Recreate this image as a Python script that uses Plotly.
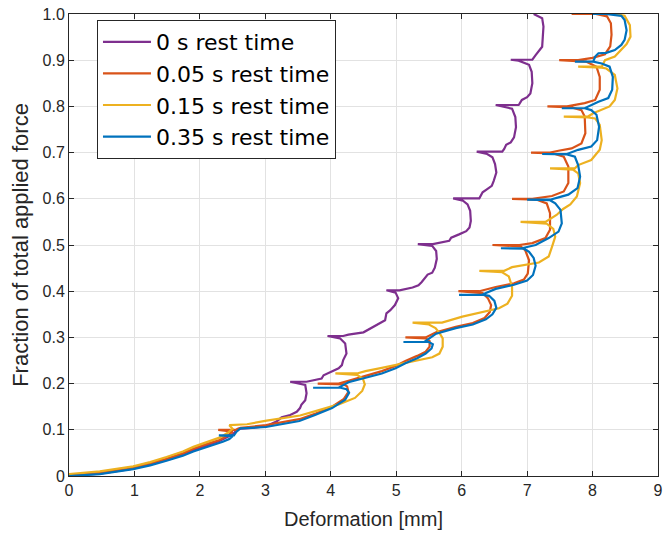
import plotly.graph_objects as go

# Series: (deformation [mm], fraction of force)
rest_0s = [
    (0, 0), (0.47, 0.005), (0.98, 0.016), (1.49, 0.035), (1.9, 0.056), (2.3, 0.076),
    (2.5, 0.09), (2.58, 0.102), (2.8, 0.104), (3.02, 0.108), (3.17, 0.118), (3.25, 0.127),
    (3.38, 0.132), (3.48, 0.139), (3.53, 0.147), (3.55, 0.154), (3.61, 0.164), (3.63, 0.179),
    (3.61, 0.197), (3.38, 0.204), (3.63, 0.204),
    (3.74, 0.208), (3.86, 0.211), (3.89, 0.218), (4.02, 0.226), (4.12, 0.233), (4.17, 0.24),
    (4.19, 0.251), (4.24, 0.265), (4.22, 0.287), (4.14, 0.298), (3.95, 0.303), (4.19, 0.303),
    (4.27, 0.306), (4.5, 0.311), (4.6, 0.319), (4.75, 0.33), (4.83, 0.337), (4.85, 0.352),
    (4.91, 0.359), (4.98, 0.37), (5.03, 0.385), (4.99, 0.397), (4.85, 0.402), (5.05, 0.402),
    (5.25, 0.408), (5.34, 0.413), (5.39, 0.42), (5.48, 0.436), (5.55, 0.44), (5.59, 0.451),
    (5.62, 0.47), (5.61, 0.487), (5.55, 0.498), (5.33, 0.502), (5.56, 0.502),
    (5.81, 0.509), (5.84, 0.516), (5.96, 0.523), (6.07, 0.53), (6.12, 0.538), (6.14, 0.552),
    (6.13, 0.574), (6.09, 0.588), (6.02, 0.596), (5.87, 0.601), (6.27, 0.601),
    (6.29, 0.607), (6.32, 0.614), (6.39, 0.621), (6.46, 0.628), (6.49, 0.639), (6.53, 0.657),
    (6.51, 0.675), (6.47, 0.69), (6.39, 0.697), (6.23, 0.702), (6.62, 0.702),
    (6.65, 0.708), (6.68, 0.717), (6.75, 0.722), (6.80, 0.733), (6.83, 0.755), (6.82, 0.777),
    (6.77, 0.795), (6.52, 0.803), (6.87, 0.803),
    (6.88, 0.805), (6.92, 0.814), (7.0, 0.82), (7.05, 0.828), (7.08, 0.85), (7.07, 0.875),
    (7.03, 0.89), (6.97, 0.893), (6.87, 0.899), (6.75, 0.901), (7.08, 0.901),
    (7.13, 0.911), (7.18, 0.919), (7.23, 0.929), (7.24, 0.951), (7.25, 0.973), (7.23, 0.991),
    (7.10, 1.0),
]

rest_005s = [
    (0, 0.002), (0.47, 0.007), (0.98, 0.018), (1.24, 0.027), (1.49, 0.037), (1.74, 0.049),
    (1.9, 0.059), (2.1, 0.069), (2.3, 0.078), (2.42, 0.087), (2.5, 0.096), (2.28, 0.1), (2.55, 0.1),
    (2.62, 0.104), (3.01, 0.11), (3.52, 0.123), (3.78, 0.136), (4.02, 0.15), (4.2, 0.167),
    (4.27, 0.182), (4.25, 0.194), (4.2, 0.198), (3.80, 0.2), (4.12, 0.2),
    (4.27, 0.206), (4.53, 0.216), (4.78, 0.227), (4.99, 0.238), (5.14, 0.249), (5.32, 0.26),
    (5.45, 0.269), (5.51, 0.28), (5.51, 0.292), (5.45, 0.298), (5.14, 0.3), (5.45, 0.3),
    (5.61, 0.311), (5.91, 0.323), (6.17, 0.331), (6.35, 0.342), (6.43, 0.355), (6.45, 0.37),
    (6.40, 0.385), (6.32, 0.396), (5.95, 0.4), (6.27, 0.4),
    (6.52, 0.409), (6.8, 0.417), (6.95, 0.425), (7.01, 0.438), (7.03, 0.467), (6.97, 0.489),
    (6.9, 0.497), (6.47, 0.5), (6.88, 0.5),
    (7.08, 0.504), (7.28, 0.515), (7.35, 0.533), (7.35, 0.569), (7.30, 0.59), (7.15, 0.598),
    (6.77, 0.6), (7.08, 0.6),
    (7.38, 0.606), (7.56, 0.616), (7.63, 0.634), (7.63, 0.67), (7.56, 0.691), (7.40, 0.698),
    (7.06, 0.7), (7.35, 0.7),
    (7.48, 0.704), (7.68, 0.709), (7.83, 0.72), (7.89, 0.742), (7.88, 0.778), (7.83, 0.792),
    (7.68, 0.798), (7.31, 0.8), (7.61, 0.8),
    (7.88, 0.807), (8.04, 0.814), (8.11, 0.836), (8.11, 0.864), (8.06, 0.886), (7.9, 0.897),
    (7.49, 0.9), (7.78, 0.9),
    (8.0, 0.905), (8.19, 0.913), (8.27, 0.93), (8.29, 0.955), (8.28, 0.98), (8.22, 0.995),
    (8.05, 1.0), (7.68, 1.0),
]

rest_015s = [
    (0, 0.004), (0.47, 0.01), (0.98, 0.021), (1.24, 0.03), (1.49, 0.041), (1.74, 0.053),
    (1.9, 0.063), (2.1, 0.073), (2.3, 0.083), (2.42, 0.093), (2.5, 0.102), (2.45, 0.11), (2.72, 0.112),
    (3.02, 0.12), (3.53, 0.131), (3.78, 0.141), (4.12, 0.155), (4.37, 0.169), (4.48, 0.184),
    (4.52, 0.198), (4.49, 0.211), (4.40, 0.219), (4.07, 0.222), (4.40, 0.222),
    (4.53, 0.227), (4.78, 0.234), (5.04, 0.242), (5.30, 0.249), (5.55, 0.257), (5.66, 0.265),
    (5.71, 0.28), (5.71, 0.298), (5.66, 0.31), (5.6, 0.32), (5.5, 0.328), (5.25, 0.332), (5.70, 0.332),
    (6.01, 0.345), (6.27, 0.353), (6.57, 0.363), (6.7, 0.373), (6.77, 0.39), (6.77, 0.41),
    (6.72, 0.432), (6.62, 0.441), (6.27, 0.444), (6.65, 0.444),
    (6.77, 0.452), (7.18, 0.462), (7.33, 0.475), (7.38, 0.496), (7.43, 0.518), (7.40, 0.535),
    (7.3, 0.546), (6.90, 0.55), (7.28, 0.55),
    (7.45, 0.565), (7.55, 0.578), (7.66, 0.588), (7.76, 0.605), (7.81, 0.634), (7.78, 0.655),
    (7.70, 0.663), (7.35, 0.666), (7.73, 0.666),
    (7.78, 0.673), (7.98, 0.684), (8.11, 0.706), (8.14, 0.727), (8.11, 0.76), (8.04, 0.774),
    (7.93, 0.776), (7.56, 0.778), (7.93, 0.778),
    (8.01, 0.785), (8.14, 0.792), (8.26, 0.8), (8.34, 0.814), (8.38, 0.839), (8.34, 0.868),
    (8.21, 0.882), (8.14, 0.884), (7.78, 0.886), (8.14, 0.886),
    (8.19, 0.9), (8.34, 0.908), (8.44, 0.922), (8.52, 0.935), (8.58, 0.951), (8.57, 0.976),
    (8.49, 0.996), (8.35, 1.0),
]

rest_035s = [
    (0, 0), (0.47, 0.004), (0.98, 0.015), (1.24, 0.023), (1.49, 0.033), (1.74, 0.044),
    (1.9, 0.053), (2.1, 0.062), (2.25, 0.068), (2.35, 0.074), (2.45, 0.08), (2.5, 0.086),
    (2.29, 0.088), (2.52, 0.088),
    (2.56, 0.096), (2.62, 0.103), (3.01, 0.106), (3.52, 0.119), (3.76, 0.132), (4.02, 0.147),
    (4.22, 0.165), (4.28, 0.18), (4.24, 0.188), (4.15, 0.191), (3.73, 0.191), (4.12, 0.191),
    (4.27, 0.203), (4.53, 0.212), (4.78, 0.222), (4.99, 0.233), (5.14, 0.244), (5.32, 0.255),
    (5.45, 0.265), (5.54, 0.276), (5.56, 0.285), (5.50, 0.29), (5.11, 0.29), (5.43, 0.29),
    (5.61, 0.308), (5.91, 0.32), (6.17, 0.328), (6.37, 0.339), (6.47, 0.35), (6.53, 0.364),
    (6.5, 0.379), (6.42, 0.39), (6.33, 0.392), (5.96, 0.392), (6.30, 0.392),
    (6.52, 0.405), (6.8, 0.414), (7.0, 0.423), (7.09, 0.435), (7.13, 0.455), (7.10, 0.472),
    (7.03, 0.485), (6.95, 0.492), (6.60, 0.493), (6.92, 0.493),
    (7.13, 0.5), (7.33, 0.515), (7.48, 0.529), (7.53, 0.547), (7.51, 0.576), (7.43, 0.59),
    (7.35, 0.597), (7.0, 0.598), (7.35, 0.598),
    (7.48, 0.603), (7.63, 0.609), (7.77, 0.623), (7.81, 0.648), (7.78, 0.673), (7.73, 0.691),
    (7.61, 0.696), (7.23, 0.697), (7.61, 0.697),
    (7.78, 0.706), (7.98, 0.713), (8.07, 0.727), (8.10, 0.756), (8.06, 0.782), (7.98, 0.792),
    (7.88, 0.796), (7.53, 0.796), (7.88, 0.796),
    (8.09, 0.81), (8.24, 0.818), (8.30, 0.836), (8.31, 0.864), (8.26, 0.886), (8.14, 0.893),
    (8.01, 0.897), (7.73, 0.897), (8.01, 0.897),
    (8.04, 0.908), (8.09, 0.915), (8.21, 0.916), (8.34, 0.922), (8.44, 0.933), (8.49, 0.944),
    (8.52, 0.965), (8.49, 0.987), (8.44, 0.996), (8.2, 1.0), (8.0, 1.0),
]

series_names = ["0 s rest time", "0.05 s rest time", "0.15 s rest time", "0.35 s rest time"]
series_data = [rest_0s, rest_005s, rest_015s, rest_035s]
series_colors = ["#7E2F8E", "#D95319", "#EDB120", "#0072BD"]

x_ticks = [0, 1, 2, 3, 4, 5, 6, 7, 8, 9]
y_ticks = [0, 0.1, 0.2, 0.3, 0.4, 0.5, 0.6, 0.7, 0.8, 0.9, 1.0]
y_ticktext = ["0", "0.1", "0.2", "0.3", "0.4", "0.5", "0.6", "0.7", "0.8", "0.9", "1.0"]

FONT = "Liberation Sans, Arial, Helvetica, sans-serif"
AX = "#262626"

fig = go.Figure()
for name, pts, col in zip(series_names, series_data, series_colors):
    fig.add_trace(go.Scatter(
        x=[p[0] for p in pts], y=[p[1] for p in pts], mode="lines", name=name,
        legendgroup=name, line=dict(color=col, width=2.2),
    ))

axis_common = dict(
    showline=True, linecolor=AX, linewidth=1, mirror="ticks", ticks="inside",
    ticklen=5, tickcolor=AX, showgrid=True, gridcolor="#e2e2e2", gridwidth=1,
    zeroline=False, tickfont=dict(family=FONT, size=16, color=AX),
    automargin=False, ticklabeloverflow="allow",
)

fig.update_layout(
    width=665, height=536,
    margin=dict(l=69, r=7, t=14, b=60),
    paper_bgcolor="white", plot_bgcolor="white",
    font=dict(family=FONT, color=AX),
    xaxis=dict(range=[0, 9], tickvals=x_ticks,
               title=dict(text="Deformation [mm]", font=dict(family=FONT, size=20, color=AX), standoff=13),
               **axis_common),
    yaxis=dict(range=[0, 1], tickvals=y_ticks, ticktext=y_ticktext,
               title=dict(text="Fraction of total applied force", font=dict(family=FONT, size=22, color=AX), standoff=7),
               **axis_common),
    legend=dict(x=0.0475, y=0.987, xanchor="left", yanchor="top",
                bgcolor="white", bordercolor=AX, borderwidth=1,
                font=dict(family="DejaVu Sans, " + FONT, size=22, color="black"),
                traceorder="grouped", tracegroupgap=0, itemwidth=48),
    showlegend=True,
)

# remove the default page margin so the figure sits at the window's corner
fig.write_html("out.html", config={"displayModeBar": False},
               post_script="document.body.style.margin='0';")
